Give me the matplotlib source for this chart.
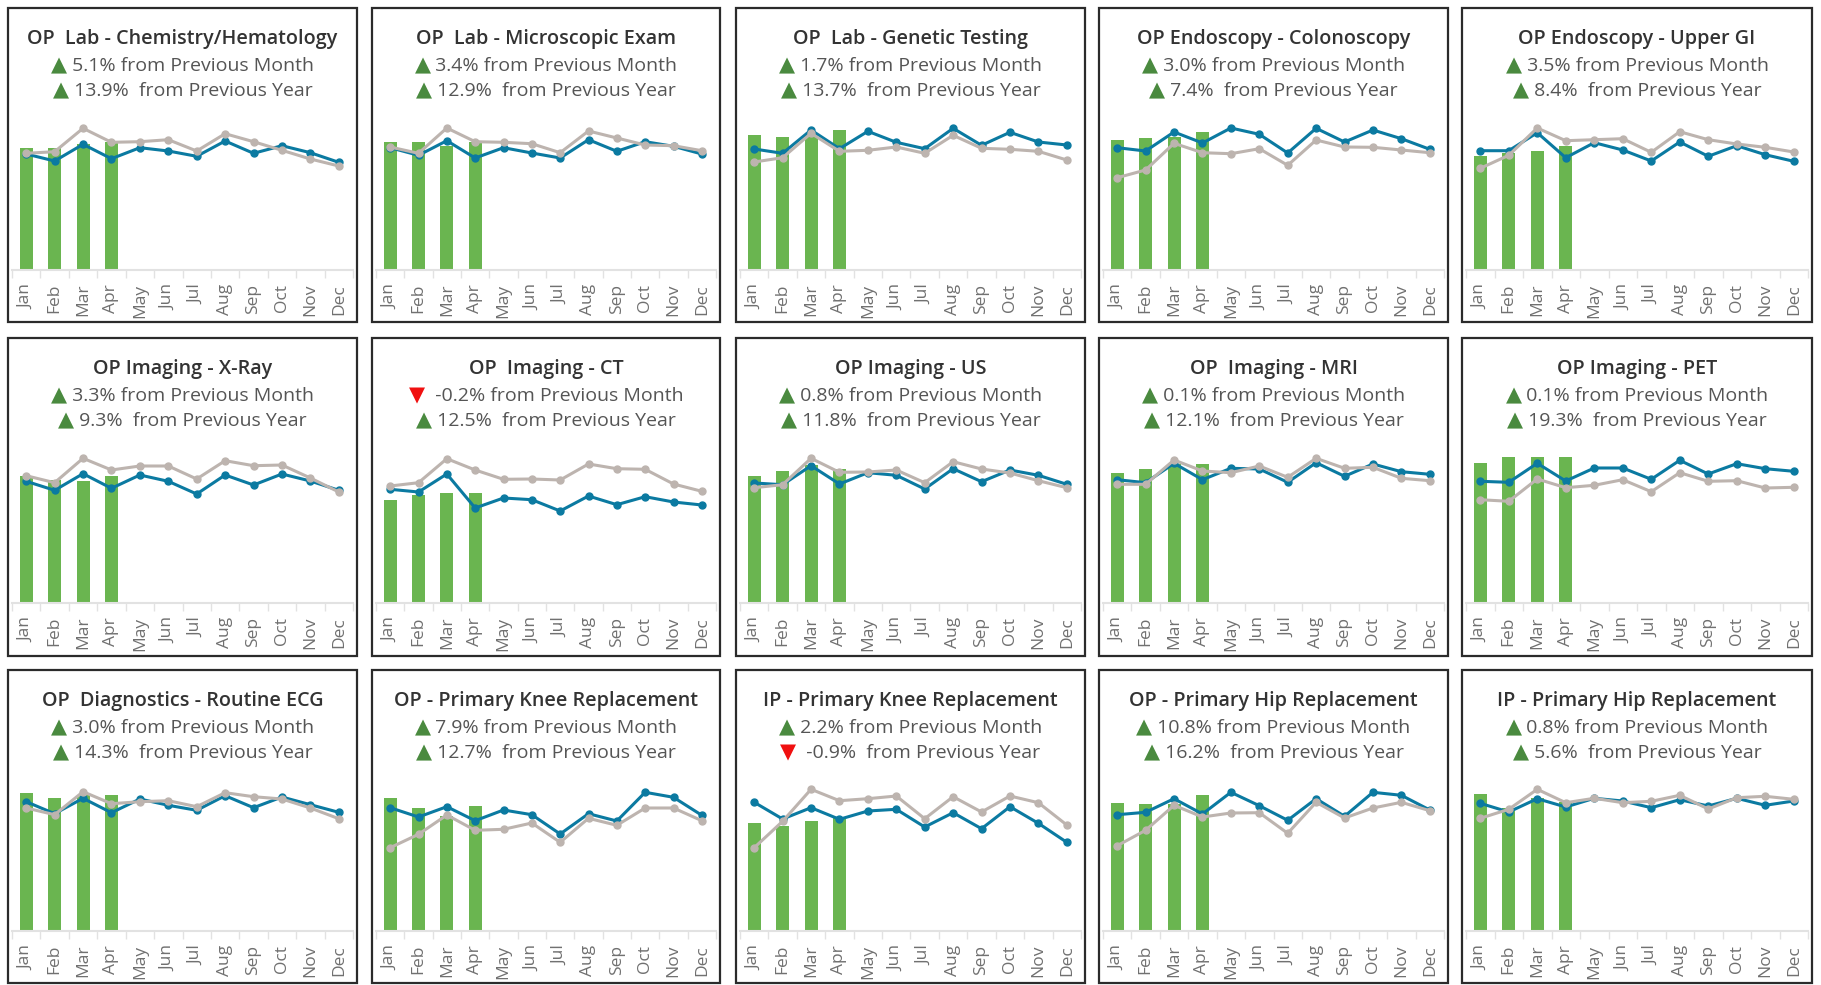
import matplotlib.pyplot as plt
from matplotlib.patches import Rectangle
from matplotlib.offsetbox import TextArea, HPacker, AnnotationBbox

# --- data (arbitrary volume index) ---
MONTHS = ["Jan", "Feb", "Mar", "Apr", "May", "Jun",
          "Jul", "Aug", "Sep", "Oct", "Nov", "Dec"]

TITLES = [
    "OP  Lab - Chemistry/Hematology", "OP  Lab - Microscopic Exam",
    "OP  Lab - Genetic Testing", "OP Endoscopy - Colonoscopy",
    "OP Endoscopy - Upper GI",
    "OP Imaging - X-Ray", "OP  Imaging - CT", "OP Imaging - US",
    "OP  Imaging - MRI", "OP Imaging - PET",
    "OP  Diagnostics - Routine ECG", "OP - Primary Knee Replacement",
    "IP - Primary Knee Replacement", "OP - Primary Hip Replacement",
    "IP - Primary Hip Replacement",
]

MOM = [5.1, 3.4, 1.7, 3.0, 3.5, 3.3, -0.2, 0.8, 0.1, 0.1, 3.0, 7.9, 2.2, 10.8, 0.8]
YOY = [13.9, 12.9, 13.7, 7.4, 8.4, 9.3, 12.5, 11.8, 12.1, 19.3, 14.3, 12.7, -0.9, 16.2, 5.6]

# actual volume, Jan-Apr (green bars)
ACTUAL = [
    [122.3, 122.3, 126.0, 128.3],
    [128.0, 128.0, 124.3, 128.0],
    [135.0, 133.0, 136.7, 140.0],
    [130.0, 132.0, 133.3, 138.0],
    [114.0, 116.7, 119.0, 124.0],
    [126.7, 123.3, 121.7, 126.7],
    [102.7, 107.7, 109.7, 109.7],
    [126.7, 131.7, 137.7, 134.3],
    [129.7, 133.7, 139.3, 139.3],
    [139.7, 145.7, 145.7, 145.7],
    [138.3, 133.3, 136.0, 136.3],
    [133.3, 123.3, 115.3, 125.3],
    [107.7, 104.7, 109.7, 112.7],
    [128.0, 127.0, 126.7, 136.3],
    [136.7, 122.7, 132.7, 129.3],
]

# current year trend (blue line)
CURRENT = [
    [116.0, 109.0, 125.7, 111.3, 122.3, 119.0, 113.7, 129.0, 116.7, 124.3, 117.3, 107.7],
    [122.3, 114.7, 129.3, 112.0, 122.3, 117.0, 112.0, 130.3, 118.7, 128.3, 123.7, 116.0],
    [121.0, 116.7, 140.0, 121.3, 138.7, 127.7, 121.3, 141.7, 124.7, 137.7, 128.0, 125.0],
    [122.3, 119.0, 138.0, 127.0, 142.0, 135.7, 117.0, 141.7, 128.0, 140.0, 131.3, 120.7],
    [119.3, 119.3, 137.3, 112.3, 127.3, 120.0, 109.0, 128.0, 113.7, 124.3, 115.3, 108.7],
    [121.7, 112.7, 129.3, 114.7, 128.0, 121.7, 109.0, 128.0, 118.0, 129.0, 122.0, 112.7],
    [113.7, 111.0, 129.0, 95.0, 105.0, 103.3, 92.0, 107.0, 98.3, 106.3, 101.0, 98.0],
    [120.0, 118.3, 137.3, 119.0, 130.3, 127.7, 114.0, 134.3, 121.3, 133.0, 127.7, 118.7],
    [123.3, 120.3, 139.7, 123.3, 134.7, 134.0, 120.7, 140.3, 126.7, 139.0, 131.3, 128.7],
    [121.7, 120.7, 139.7, 122.0, 135.0, 135.0, 123.7, 142.7, 129.0, 139.3, 134.3, 131.7],
    [129.3, 117.3, 132.7, 118.3, 132.0, 125.7, 120.7, 135.3, 123.3, 134.0, 126.3, 118.7],
    [123.3, 114.0, 124.3, 110.3, 121.0, 116.3, 97.0, 117.3, 110.0, 138.7, 133.7, 115.7],
    [128.7, 112.0, 123.3, 111.7, 120.0, 121.7, 104.0, 118.3, 102.3, 124.3, 107.7, 88.7],
    [116.3, 118.7, 132.3, 117.0, 138.7, 125.3, 110.7, 132.3, 114.7, 138.7, 135.7, 121.0],
    [127.7, 119.0, 132.3, 124.0, 132.7, 130.0, 123.3, 131.3, 125.0, 132.7, 125.7, 130.0],
]

# previous year (grey line)
PREVIOUS = [
    [116.7, 118.3, 141.7, 127.7, 128.3, 130.3, 119.0, 136.3, 128.3, 119.7, 111.0, 104.0],
    [123.0, 116.7, 142.0, 128.3, 127.7, 126.3, 117.3, 139.0, 132.0, 125.0, 124.3, 119.3],
    [108.0, 112.3, 136.7, 118.7, 119.7, 123.0, 116.7, 134.7, 121.7, 120.7, 118.7, 110.0],
    [92.3, 100.0, 126.7, 117.3, 116.3, 121.3, 104.7, 130.0, 123.0, 122.7, 120.0, 117.3],
    [101.7, 114.7, 142.0, 129.3, 130.3, 131.3, 117.7, 138.3, 130.3, 126.0, 122.7, 118.0],
    [127.3, 120.3, 144.7, 133.0, 137.0, 137.0, 124.0, 142.3, 137.3, 138.0, 125.0, 111.0],
    [117.0, 120.3, 144.3, 133.0, 123.7, 124.0, 123.0, 139.0, 134.3, 133.7, 119.0, 111.7],
    [115.3, 118.3, 144.7, 130.7, 131.0, 133.0, 120.3, 141.3, 134.0, 130.0, 122.3, 115.3],
    [118.7, 118.7, 143.0, 132.0, 130.3, 137.0, 125.7, 144.7, 134.7, 135.7, 124.7, 122.3],
    [103.3, 101.7, 124.0, 115.3, 117.7, 123.3, 111.3, 130.3, 121.7, 122.3, 115.0, 115.7],
    [123.0, 116.3, 139.3, 127.3, 129.3, 130.3, 124.3, 138.3, 134.3, 132.0, 123.0, 112.3],
    [83.3, 96.7, 116.0, 100.7, 101.7, 108.0, 88.7, 112.7, 105.7, 123.0, 123.0, 110.3],
    [83.3, 109.7, 141.7, 130.3, 132.3, 135.0, 112.3, 134.3, 119.0, 135.0, 128.3, 106.0],
    [85.3, 100.7, 125.7, 114.0, 118.0, 118.3, 97.7, 128.7, 113.0, 123.0, 128.7, 120.3],
    [112.7, 121.7, 141.7, 128.3, 132.7, 128.3, 129.7, 135.7, 122.0, 133.3, 134.7, 131.7],
]

GREEN = "#6ab550"
BLUE = "#0b7aa1"
GREY = "#bdb4af"
UP = "#4a8a3f"
DOWN = "#f01010"
FONT = "Open Sans"

W, H = 1821, 985
fig = plt.figure(figsize=(W / 100, H / 100), dpi=100)

# panel grid in pixels
COL_L = [8, 372, 736, 1099, 1462]
COL_R = [357, 720, 1085, 1448, 1812]
ROW_T = [8, 338, 670]
ROW_B = [322, 656, 983]
ROW_BASE = [270, 603, 931]
PLOT_H = 162


def fx(px):
    return px / W


def fy(py):
    return 1 - py / H


def change_line(x, y, value, label):
    arrow = "\u25B2" if value >= 0 else "\u25BC"
    col = UP if value >= 0 else DOWN
    gap = " " if value >= 0 else "  "
    parts = [
        TextArea(arrow, textprops=dict(color=col, fontsize=15, family="DejaVu Sans")),
        TextArea(f"{gap}{value:.1f}%{label}",
                 textprops=dict(color="#555555", fontsize=14, family=FONT)),
    ]
    box = HPacker(children=parts, align="baseline", pad=0, sep=0)
    ab = AnnotationBbox(box, (x, y), xycoords="figure fraction",
                        frameon=False, box_alignment=(0.5, 0.5), pad=0)
    fig.add_artist(ab)


for i, title in enumerate(TITLES):
    r, c = divmod(i, 5)
    left, right = COL_L[c], COL_R[c]
    top, bottom, base = ROW_T[r], ROW_B[r], ROW_BASE[r]

    # panel border
    fig.add_artist(Rectangle((fx(left), fy(bottom)), fx(right - left), (bottom - top) / H,
                             transform=fig.transFigure, fill=False,
                             edgecolor="#2b2b2b", linewidth=1.6))

    cx = fx((left + right) / 2)
    fig.text(cx, fy(top + 36), title, ha="center", va="baseline", fontsize=14.2,
             color="#333333", family=FONT, fontweight="semibold")
    change_line(cx, fy(top + 57), MOM[i], " from Previous Month")
    change_line(cx, fy(top + 82.5), YOY[i], "  from Previous Year")

    ax = fig.add_axes([fx(left + 4), fy(base), fx(right - left - 8), PLOT_H / H])
    x = range(12)
    ax.bar(range(len(ACTUAL[i])), ACTUAL[i], width=0.46, color=GREEN, zorder=1)
    ax.plot(x, CURRENT[i], color=BLUE, lw=2.2, marker="o", ms=5, zorder=3)
    ax.plot(x, PREVIOUS[i], color=GREY, lw=2.2, marker="o", ms=5, zorder=4)

    ax.set_xlim(-0.5, 11.5)
    ax.set_ylim(0, PLOT_H)
    ax.set_yticks([])
    ax.set_xticks(list(x))
    ax.set_xticklabels(MONTHS, rotation=90, fontsize=12.5, color="#707070", family=FONT)
    ax.set_xticks([k - 0.5 for k in range(13)], minor=True)
    ax.tick_params(axis="x", which="major", length=0, pad=10)
    ax.tick_params(axis="x", which="minor", length=6, color="#e2e2e2", width=1)
    for s in ("top", "left", "right"):
        ax.spines[s].set_visible(False)
    ax.spines["bottom"].set_color("#e2e2e2")
    ax.spines["bottom"].set_linewidth(1.5)
    ax.patch.set_alpha(0)

fig.savefig("out.png", dpi=100, facecolor="white")
